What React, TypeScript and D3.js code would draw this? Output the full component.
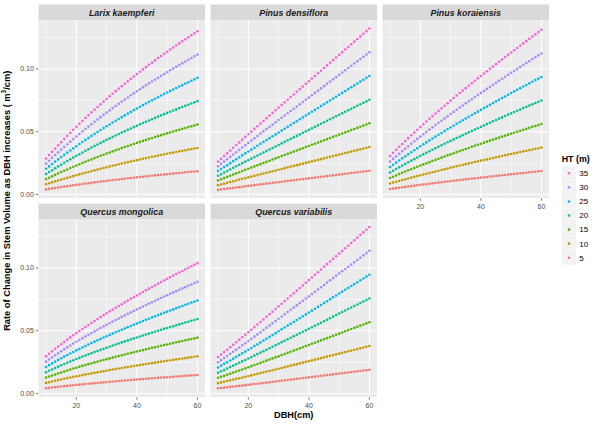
import React from 'react';
import * as d3 from 'd3';

const DBH = [10, 11, 12, 13, 14, 15, 16, 17, 18, 19, 20, 21, 22, 23, 24, 25, 26, 27, 28, 29, 30, 31, 32, 33, 34, 35, 36, 37, 38, 39, 40, 41, 42, 43, 44, 45, 46, 47, 48, 49, 50, 51, 52, 53, 54, 55, 56, 57, 58, 59, 60];
const HT_LEVELS = [5, 10, 15, 20, 25, 30, 35];
const HT_COLORS = ['#F8766D', '#C49A00', '#53B400', '#00C094', '#00B6EB', '#A58AFF', '#FB61D7'];
const SPECIES = ['Larix kaempferi', 'Pinus densiflora', 'Pinus koraiensis', 'Quercus mongolica', 'Quercus variabilis'];
const X_TICKS = [20, 40, 60];
const X_MINOR = [10, 30, 50];
const Y_TICKS = [0, 0.05, 0.1];
const Y_TICK_LABELS = ['0.00', '0.05', '0.10'];
const Y_MINOR = [0.025, 0.075, 0.125];

// rows: HT 5, 10, 15, 20, 25, 30, 35 ; columns: DBH 10..60
const larixKaempferi = [
  [0.0041,0.0045,0.0049,0.0052,0.0056,0.0060,0.0063,0.0067,0.0070,0.0074,0.0077,0.0080,0.0084,0.0087,0.0090,0.0093,0.0097,0.0100,0.0103,0.0106,0.0109,0.0112,0.0115,0.0118,0.0120,0.0123,0.0126,0.0129,0.0132,0.0134,0.0137,0.0140,0.0142,0.0145,0.0148,0.0150,0.0153,0.0155,0.0158,0.0160,0.0162,0.0165,0.0167,0.0170,0.0172,0.0174,0.0177,0.0179,0.0181,0.0183,0.0186],
  [0.0082,0.0090,0.0097,0.0105,0.0112,0.0119,0.0126,0.0133,0.0140,0.0147,0.0154,0.0161,0.0167,0.0174,0.0180,0.0187,0.0193,0.0199,0.0205,0.0211,0.0217,0.0223,0.0229,0.0235,0.0241,0.0247,0.0252,0.0258,0.0263,0.0269,0.0274,0.0279,0.0285,0.0290,0.0295,0.0300,0.0305,0.0310,0.0315,0.0320,0.0325,0.0330,0.0334,0.0339,0.0344,0.0348,0.0353,0.0358,0.0362,0.0367,0.0371],
  [0.0123,0.0134,0.0146,0.0157,0.0168,0.0179,0.0190,0.0200,0.0211,0.0221,0.0231,0.0241,0.0251,0.0261,0.0271,0.0280,0.0290,0.0299,0.0308,0.0317,0.0326,0.0335,0.0344,0.0353,0.0361,0.0370,0.0378,0.0387,0.0395,0.0403,0.0411,0.0419,0.0427,0.0435,0.0443,0.0450,0.0458,0.0465,0.0473,0.0480,0.0487,0.0494,0.0502,0.0509,0.0516,0.0523,0.0530,0.0537,0.0543,0.0550,0.0557],
  [0.0164,0.0179,0.0194,0.0209,0.0224,0.0238,0.0253,0.0267,0.0281,0.0294,0.0308,0.0321,0.0335,0.0348,0.0361,0.0374,0.0386,0.0399,0.0411,0.0423,0.0435,0.0447,0.0458,0.0470,0.0482,0.0493,0.0504,0.0515,0.0526,0.0537,0.0548,0.0559,0.0569,0.0580,0.0590,0.0600,0.0610,0.0620,0.0630,0.0640,0.0650,0.0659,0.0669,0.0678,0.0688,0.0697,0.0706,0.0715,0.0725,0.0734,0.0743],
  [0.0205,0.0224,0.0243,0.0262,0.0280,0.0298,0.0316,0.0334,0.0351,0.0368,0.0385,0.0402,0.0418,0.0435,0.0451,0.0467,0.0483,0.0498,0.0514,0.0529,0.0544,0.0558,0.0573,0.0588,0.0602,0.0616,0.0630,0.0644,0.0658,0.0672,0.0685,0.0698,0.0712,0.0725,0.0738,0.0750,0.0763,0.0775,0.0788,0.0800,0.0812,0.0824,0.0836,0.0848,0.0860,0.0871,0.0883,0.0894,0.0906,0.0917,0.0929],
  [0.0246,0.0269,0.0292,0.0314,0.0336,0.0358,0.0379,0.0400,0.0421,0.0442,0.0462,0.0482,0.0502,0.0522,0.0541,0.0560,0.0579,0.0598,0.0616,0.0634,0.0652,0.0670,0.0688,0.0705,0.0722,0.0740,0.0756,0.0773,0.0790,0.0806,0.0822,0.0838,0.0854,0.0870,0.0885,0.0900,0.0915,0.0930,0.0945,0.0960,0.0974,0.0989,0.1003,0.1017,0.1031,0.1045,0.1059,0.1073,0.1087,0.1101,0.1114],
  [0.0287,0.0314,0.0340,0.0366,0.0392,0.0417,0.0442,0.0467,0.0491,0.0515,0.0539,0.0563,0.0586,0.0609,0.0631,0.0654,0.0676,0.0697,0.0719,0.0740,0.0761,0.0782,0.0802,0.0823,0.0843,0.0863,0.0882,0.0902,0.0921,0.0940,0.0959,0.0978,0.0996,0.1014,0.1033,0.1050,0.1068,0.1086,0.1103,0.1120,0.1137,0.1154,0.1170,0.1187,0.1203,0.1220,0.1236,0.1252,0.1268,0.1284,0.1300],
];

const pinusDensiflora = [
  [0.0037,0.0041,0.0044,0.0047,0.0050,0.0053,0.0056,0.0059,0.0062,0.0066,0.0069,0.0072,0.0075,0.0078,0.0081,0.0084,0.0087,0.0090,0.0093,0.0096,0.0099,0.0102,0.0105,0.0108,0.0111,0.0114,0.0117,0.0120,0.0123,0.0126,0.0129,0.0132,0.0135,0.0138,0.0141,0.0144,0.0147,0.0150,0.0153,0.0156,0.0159,0.0162,0.0165,0.0168,0.0171,0.0174,0.0177,0.0180,0.0183,0.0186,0.0189],
  [0.0075,0.0081,0.0087,0.0094,0.0100,0.0106,0.0112,0.0119,0.0125,0.0131,0.0137,0.0143,0.0149,0.0155,0.0162,0.0168,0.0174,0.0180,0.0186,0.0192,0.0198,0.0204,0.0210,0.0216,0.0222,0.0228,0.0234,0.0240,0.0246,0.0252,0.0258,0.0264,0.0270,0.0276,0.0282,0.0288,0.0294,0.0300,0.0306,0.0312,0.0318,0.0324,0.0330,0.0336,0.0342,0.0348,0.0354,0.0360,0.0366,0.0372,0.0378],
  [0.0112,0.0122,0.0131,0.0141,0.0150,0.0159,0.0169,0.0178,0.0187,0.0197,0.0206,0.0215,0.0224,0.0233,0.0242,0.0251,0.0260,0.0269,0.0279,0.0288,0.0297,0.0306,0.0315,0.0324,0.0333,0.0342,0.0351,0.0360,0.0369,0.0378,0.0387,0.0396,0.0405,0.0414,0.0423,0.0432,0.0441,0.0450,0.0459,0.0468,0.0477,0.0486,0.0495,0.0504,0.0513,0.0522,0.0531,0.0540,0.0549,0.0558,0.0567],
  [0.0150,0.0162,0.0175,0.0188,0.0200,0.0213,0.0225,0.0237,0.0250,0.0262,0.0274,0.0286,0.0299,0.0311,0.0323,0.0335,0.0347,0.0359,0.0371,0.0383,0.0395,0.0407,0.0419,0.0431,0.0443,0.0455,0.0467,0.0479,0.0491,0.0503,0.0515,0.0527,0.0539,0.0551,0.0563,0.0575,0.0587,0.0599,0.0611,0.0623,0.0635,0.0647,0.0659,0.0671,0.0683,0.0695,0.0707,0.0719,0.0731,0.0743,0.0755],
  [0.0187,0.0203,0.0219,0.0234,0.0250,0.0266,0.0281,0.0297,0.0312,0.0328,0.0343,0.0358,0.0373,0.0389,0.0404,0.0419,0.0434,0.0449,0.0464,0.0479,0.0494,0.0509,0.0524,0.0539,0.0554,0.0569,0.0584,0.0599,0.0614,0.0629,0.0644,0.0659,0.0674,0.0689,0.0704,0.0719,0.0734,0.0749,0.0764,0.0779,0.0794,0.0809,0.0824,0.0839,0.0854,0.0869,0.0884,0.0899,0.0914,0.0929,0.0944],
  [0.0225,0.0244,0.0262,0.0281,0.0300,0.0319,0.0337,0.0356,0.0375,0.0393,0.0411,0.0430,0.0448,0.0466,0.0485,0.0503,0.0521,0.0539,0.0557,0.0575,0.0593,0.0611,0.0629,0.0647,0.0665,0.0683,0.0701,0.0719,0.0737,0.0755,0.0773,0.0791,0.0809,0.0827,0.0845,0.0863,0.0881,0.0899,0.0917,0.0935,0.0953,0.0971,0.0989,0.1007,0.1025,0.1043,0.1061,0.1079,0.1097,0.1115,0.1133],
  [0.0262,0.0284,0.0306,0.0328,0.0350,0.0372,0.0394,0.0415,0.0437,0.0459,0.0480,0.0501,0.0523,0.0544,0.0565,0.0586,0.0608,0.0629,0.0650,0.0671,0.0692,0.0713,0.0734,0.0755,0.0776,0.0797,0.0818,0.0839,0.0860,0.0881,0.0902,0.0923,0.0944,0.0965,0.0986,0.1007,0.1028,0.1049,0.1070,0.1091,0.1112,0.1133,0.1154,0.1175,0.1196,0.1217,0.1238,0.1259,0.1280,0.1301,0.1322],
];

const pinusKoraiensis = [
  [0.0044,0.0047,0.0051,0.0054,0.0058,0.0061,0.0064,0.0067,0.0071,0.0074,0.0077,0.0080,0.0083,0.0086,0.0089,0.0092,0.0095,0.0098,0.0101,0.0104,0.0107,0.0110,0.0113,0.0115,0.0118,0.0121,0.0124,0.0127,0.0129,0.0132,0.0135,0.0138,0.0140,0.0143,0.0146,0.0148,0.0151,0.0154,0.0156,0.0159,0.0162,0.0164,0.0167,0.0169,0.0172,0.0174,0.0177,0.0180,0.0182,0.0185,0.0187],
  [0.0088,0.0095,0.0102,0.0108,0.0115,0.0122,0.0128,0.0135,0.0141,0.0148,0.0154,0.0160,0.0166,0.0172,0.0178,0.0184,0.0190,0.0196,0.0202,0.0208,0.0214,0.0219,0.0225,0.0231,0.0236,0.0242,0.0248,0.0253,0.0259,0.0264,0.0270,0.0275,0.0280,0.0286,0.0291,0.0297,0.0302,0.0307,0.0313,0.0318,0.0323,0.0328,0.0333,0.0339,0.0344,0.0349,0.0354,0.0359,0.0364,0.0369,0.0374],
  [0.0132,0.0142,0.0152,0.0163,0.0173,0.0183,0.0193,0.0202,0.0212,0.0221,0.0231,0.0240,0.0249,0.0258,0.0267,0.0276,0.0285,0.0294,0.0303,0.0312,0.0320,0.0329,0.0338,0.0346,0.0355,0.0363,0.0371,0.0380,0.0388,0.0396,0.0404,0.0413,0.0421,0.0429,0.0437,0.0445,0.0453,0.0461,0.0469,0.0477,0.0485,0.0492,0.0500,0.0508,0.0516,0.0523,0.0531,0.0539,0.0546,0.0554,0.0562],
  [0.0175,0.0190,0.0203,0.0217,0.0230,0.0244,0.0257,0.0270,0.0282,0.0295,0.0308,0.0320,0.0332,0.0344,0.0357,0.0369,0.0380,0.0392,0.0404,0.0416,0.0427,0.0439,0.0450,0.0461,0.0473,0.0484,0.0495,0.0506,0.0517,0.0528,0.0539,0.0550,0.0561,0.0572,0.0583,0.0593,0.0604,0.0614,0.0625,0.0636,0.0646,0.0657,0.0667,0.0677,0.0688,0.0698,0.0708,0.0718,0.0729,0.0739,0.0749],
  [0.0219,0.0237,0.0254,0.0271,0.0288,0.0305,0.0321,0.0337,0.0353,0.0369,0.0384,0.0400,0.0415,0.0431,0.0446,0.0461,0.0476,0.0490,0.0505,0.0520,0.0534,0.0548,0.0563,0.0577,0.0591,0.0605,0.0619,0.0633,0.0647,0.0660,0.0674,0.0688,0.0701,0.0715,0.0728,0.0742,0.0755,0.0768,0.0781,0.0795,0.0808,0.0821,0.0834,0.0847,0.0860,0.0872,0.0885,0.0898,0.0911,0.0923,0.0936],
  [0.0263,0.0284,0.0305,0.0325,0.0346,0.0365,0.0385,0.0404,0.0424,0.0443,0.0461,0.0480,0.0498,0.0517,0.0535,0.0553,0.0571,0.0588,0.0606,0.0623,0.0641,0.0658,0.0675,0.0692,0.0709,0.0726,0.0743,0.0759,0.0776,0.0792,0.0809,0.0825,0.0841,0.0858,0.0874,0.0890,0.0906,0.0922,0.0938,0.0953,0.0969,0.0985,0.1000,0.1016,0.1031,0.1047,0.1062,0.1078,0.1093,0.1108,0.1123],
  [0.0307,0.0332,0.0356,0.0380,0.0403,0.0426,0.0449,0.0472,0.0494,0.0516,0.0538,0.0560,0.0581,0.0603,0.0624,0.0645,0.0666,0.0686,0.0707,0.0727,0.0748,0.0768,0.0788,0.0808,0.0827,0.0847,0.0866,0.0886,0.0905,0.0925,0.0944,0.0963,0.0982,0.1001,0.1019,0.1038,0.1057,0.1075,0.1094,0.1112,0.1131,0.1149,0.1167,0.1185,0.1203,0.1221,0.1239,0.1257,0.1275,0.1293,0.1311],
];

const quercusMongolica = [
  [0.0042,0.0045,0.0048,0.0051,0.0054,0.0056,0.0059,0.0061,0.0064,0.0066,0.0069,0.0071,0.0073,0.0076,0.0078,0.0080,0.0083,0.0085,0.0087,0.0089,0.0091,0.0093,0.0095,0.0098,0.0100,0.0102,0.0104,0.0106,0.0108,0.0110,0.0112,0.0114,0.0115,0.0117,0.0119,0.0121,0.0123,0.0125,0.0127,0.0129,0.0130,0.0132,0.0134,0.0136,0.0138,0.0139,0.0141,0.0143,0.0145,0.0146,0.0148],
  [0.0085,0.0090,0.0096,0.0102,0.0107,0.0112,0.0118,0.0123,0.0128,0.0133,0.0137,0.0142,0.0147,0.0152,0.0156,0.0161,0.0165,0.0169,0.0174,0.0178,0.0182,0.0187,0.0191,0.0195,0.0199,0.0203,0.0207,0.0211,0.0215,0.0219,0.0223,0.0227,0.0231,0.0235,0.0239,0.0242,0.0246,0.0250,0.0254,0.0257,0.0261,0.0265,0.0268,0.0272,0.0275,0.0279,0.0282,0.0286,0.0289,0.0293,0.0296],
  [0.0127,0.0136,0.0144,0.0152,0.0161,0.0168,0.0176,0.0184,0.0191,0.0199,0.0206,0.0213,0.0220,0.0227,0.0234,0.0241,0.0248,0.0254,0.0261,0.0267,0.0274,0.0280,0.0286,0.0293,0.0299,0.0305,0.0311,0.0317,0.0323,0.0329,0.0335,0.0341,0.0346,0.0352,0.0358,0.0364,0.0369,0.0375,0.0380,0.0386,0.0391,0.0397,0.0402,0.0408,0.0413,0.0418,0.0424,0.0429,0.0434,0.0439,0.0445],
  [0.0169,0.0181,0.0192,0.0203,0.0214,0.0225,0.0235,0.0245,0.0255,0.0265,0.0275,0.0284,0.0294,0.0303,0.0312,0.0321,0.0330,0.0339,0.0348,0.0356,0.0365,0.0373,0.0382,0.0390,0.0398,0.0407,0.0415,0.0423,0.0431,0.0439,0.0446,0.0454,0.0462,0.0470,0.0477,0.0485,0.0492,0.0500,0.0507,0.0515,0.0522,0.0529,0.0536,0.0544,0.0551,0.0558,0.0565,0.0572,0.0579,0.0586,0.0593],
  [0.0211,0.0226,0.0240,0.0254,0.0268,0.0281,0.0294,0.0306,0.0319,0.0331,0.0344,0.0355,0.0367,0.0379,0.0390,0.0402,0.0413,0.0424,0.0435,0.0446,0.0456,0.0467,0.0477,0.0488,0.0498,0.0508,0.0518,0.0528,0.0538,0.0548,0.0558,0.0568,0.0577,0.0587,0.0596,0.0606,0.0615,0.0625,0.0634,0.0643,0.0652,0.0661,0.0670,0.0680,0.0688,0.0697,0.0706,0.0715,0.0724,0.0732,0.0741],
  [0.0254,0.0271,0.0288,0.0305,0.0321,0.0337,0.0353,0.0368,0.0383,0.0398,0.0412,0.0426,0.0441,0.0455,0.0468,0.0482,0.0495,0.0508,0.0522,0.0535,0.0547,0.0560,0.0573,0.0585,0.0598,0.0610,0.0622,0.0634,0.0646,0.0658,0.0670,0.0681,0.0693,0.0704,0.0716,0.0727,0.0738,0.0750,0.0761,0.0772,0.0783,0.0794,0.0805,0.0815,0.0826,0.0837,0.0847,0.0858,0.0868,0.0879,0.0889],
  [0.0296,0.0316,0.0336,0.0356,0.0375,0.0393,0.0411,0.0429,0.0447,0.0464,0.0481,0.0498,0.0514,0.0530,0.0546,0.0562,0.0578,0.0593,0.0609,0.0624,0.0639,0.0654,0.0668,0.0683,0.0697,0.0711,0.0726,0.0740,0.0754,0.0767,0.0781,0.0795,0.0808,0.0822,0.0835,0.0848,0.0861,0.0875,0.0888,0.0900,0.0913,0.0926,0.0939,0.0951,0.0964,0.0976,0.0989,0.1001,0.1013,0.1025,0.1038],
];

const quercusVariabilis = [
  [0.0042,0.0044,0.0047,0.0050,0.0053,0.0056,0.0058,0.0061,0.0064,0.0067,0.0070,0.0073,0.0076,0.0078,0.0081,0.0084,0.0087,0.0090,0.0093,0.0096,0.0099,0.0102,0.0105,0.0108,0.0111,0.0114,0.0117,0.0120,0.0123,0.0126,0.0129,0.0132,0.0135,0.0138,0.0141,0.0144,0.0147,0.0150,0.0153,0.0156,0.0159,0.0162,0.0165,0.0168,0.0171,0.0174,0.0177,0.0180,0.0183,0.0186,0.0189],
  [0.0083,0.0089,0.0094,0.0100,0.0105,0.0111,0.0117,0.0122,0.0128,0.0134,0.0139,0.0145,0.0151,0.0157,0.0163,0.0169,0.0175,0.0180,0.0186,0.0192,0.0198,0.0204,0.0210,0.0216,0.0222,0.0228,0.0234,0.0240,0.0246,0.0252,0.0258,0.0264,0.0270,0.0276,0.0282,0.0288,0.0294,0.0300,0.0306,0.0312,0.0318,0.0324,0.0330,0.0336,0.0342,0.0348,0.0354,0.0360,0.0367,0.0373,0.0379],
  [0.0125,0.0133,0.0141,0.0150,0.0158,0.0167,0.0175,0.0183,0.0192,0.0201,0.0209,0.0218,0.0227,0.0235,0.0244,0.0253,0.0262,0.0271,0.0280,0.0288,0.0297,0.0306,0.0315,0.0324,0.0333,0.0342,0.0351,0.0360,0.0369,0.0378,0.0387,0.0396,0.0405,0.0414,0.0423,0.0432,0.0441,0.0450,0.0459,0.0468,0.0477,0.0486,0.0496,0.0505,0.0514,0.0523,0.0532,0.0541,0.0550,0.0559,0.0568],
  [0.0166,0.0177,0.0188,0.0200,0.0211,0.0222,0.0233,0.0245,0.0256,0.0267,0.0279,0.0290,0.0302,0.0314,0.0326,0.0337,0.0349,0.0361,0.0373,0.0385,0.0397,0.0409,0.0420,0.0432,0.0444,0.0456,0.0468,0.0480,0.0492,0.0504,0.0516,0.0528,0.0540,0.0552,0.0564,0.0576,0.0588,0.0600,0.0612,0.0625,0.0637,0.0649,0.0661,0.0673,0.0685,0.0697,0.0709,0.0721,0.0733,0.0745,0.0757],
  [0.0208,0.0222,0.0236,0.0249,0.0263,0.0278,0.0292,0.0306,0.0320,0.0334,0.0349,0.0363,0.0378,0.0392,0.0407,0.0422,0.0436,0.0451,0.0466,0.0481,0.0496,0.0511,0.0526,0.0541,0.0555,0.0570,0.0585,0.0600,0.0615,0.0630,0.0645,0.0660,0.0675,0.0690,0.0705,0.0720,0.0735,0.0751,0.0766,0.0781,0.0796,0.0811,0.0826,0.0841,0.0856,0.0871,0.0886,0.0901,0.0916,0.0931,0.0946],
  [0.0249,0.0266,0.0283,0.0299,0.0316,0.0333,0.0350,0.0367,0.0384,0.0401,0.0418,0.0436,0.0453,0.0471,0.0488,0.0506,0.0524,0.0541,0.0559,0.0577,0.0595,0.0613,0.0631,0.0649,0.0667,0.0684,0.0702,0.0720,0.0738,0.0756,0.0774,0.0792,0.0810,0.0828,0.0846,0.0864,0.0883,0.0901,0.0919,0.0937,0.0955,0.0973,0.0991,0.1009,0.1027,0.1045,0.1063,0.1081,0.1100,0.1118,0.1136],
  [0.0291,0.0310,0.0330,0.0349,0.0369,0.0389,0.0408,0.0428,0.0448,0.0468,0.0488,0.0508,0.0529,0.0549,0.0570,0.0590,0.0611,0.0632,0.0652,0.0673,0.0694,0.0715,0.0736,0.0757,0.0778,0.0799,0.0819,0.0840,0.0861,0.0882,0.0903,0.0924,0.0945,0.0966,0.0987,0.1009,0.1030,0.1051,0.1072,0.1093,0.1114,0.1135,0.1156,0.1177,0.1198,0.1220,0.1241,0.1262,0.1283,0.1304,0.1325],
];

const SERIES = [larixKaempferi, pinusDensiflora, pinusKoraiensis, quercusMongolica, quercusVariabilis];

const FONT = "'Liberation Sans', Arial, Helvetica, sans-serif";
const W = 599;
const H = 424;
const PANEL_LEFT = 38.5;
const PANEL_W = 166.5;
const PANEL_GAP = 5.5;
const STRIP_TOPS = [4.5, 203.5];
const STRIP_H = 15.5;
const PANEL_H = 178;

export default function App() {
  const allValues = SERIES.flat(2);
  const [yMin, yMax] = d3.extent(allValues) as [number, number];
  const yPad = (yMax - yMin) * 0.05;
  const [xMin, xMax] = d3.extent(DBH) as [number, number];
  const xPad = (xMax - xMin) * 0.05;
  const x = d3.scaleLinear().domain([xMin - xPad, xMax + xPad]).range([0, PANEL_W]);
  const y = d3.scaleLinear().domain([yMin - yPad, yMax + yPad]).range([PANEL_H, 0]);

  const legendTop = 173.3;
  const legendStep = 14.07;
  const legendOrder = HT_LEVELS.map((h, i) => i).reverse();

  return (
    <svg width={W} height={H} viewBox={`0 0 ${W} ${H}`}
      style={{ position: 'absolute', left: 0, top: 0, display: 'block', background: '#FFFFFF' }}
      fontFamily={FONT}>
      <rect width={W} height={H} fill="#FFFFFF" />
      {SPECIES.map((name, i) => {
        const col = i % 3;
        const row = Math.floor(i / 3);
        const left = PANEL_LEFT + col * (PANEL_W + PANEL_GAP);
        const stripTop = STRIP_TOPS[row];
        const top = stripTop + STRIP_H;
        const showX = row === 1 || col === 2;
        const showY = col === 0;
        const data = SERIES[i];
        return (
          <g key={name}>
            <rect x={left} y={stripTop} width={PANEL_W} height={STRIP_H} fill="#D9D9D9" />
            <text x={left + PANEL_W / 2} y={stripTop + 11.2} textAnchor="middle"
              fontStyle="italic" fontWeight="bold" fontSize={8.9} fill="#1A1A1A">{name}</text>
            <g transform={`translate(${left},${top})`}>
              <rect width={PANEL_W} height={PANEL_H} fill="#EBEBEB" />
              {X_MINOR.map(v => (
                <line key={'xm' + v} x1={x(v)} x2={x(v)} y1={0} y2={PANEL_H} stroke="#FFFFFF" strokeWidth={0.53} />
              ))}
              {Y_MINOR.map(v => (
                <line key={'ym' + v} x1={0} x2={PANEL_W} y1={y(v)} y2={y(v)} stroke="#FFFFFF" strokeWidth={0.53} />
              ))}
              {X_TICKS.map(v => (
                <line key={'xM' + v} x1={x(v)} x2={x(v)} y1={0} y2={PANEL_H} stroke="#FFFFFF" strokeWidth={1.07} />
              ))}
              {Y_TICKS.map(v => (
                <line key={'yM' + v} x1={0} x2={PANEL_W} y1={y(v)} y2={y(v)} stroke="#FFFFFF" strokeWidth={1.07} />
              ))}
              {data.map((vals, k) => (
                <g key={'s' + k} fill={HT_COLORS[k]}>
                  {vals.map((v, j) => (
                    <circle key={j} cx={x(DBH[j])} cy={y(v)} r={1.3} />
                  ))}
                </g>
              ))}
            </g>
            {showY && Y_TICKS.map((v, t) => (
              <g key={'yt' + v}>
                <line x1={left - 2.75} x2={left} y1={top + y(v)} y2={top + y(v)} stroke="#333333" strokeWidth={0.6} />
                <text x={left - 4.6} y={top + y(v) + 2.5} textAnchor="end" fontSize={7} fill="#4D4D4D">{Y_TICK_LABELS[t]}</text>
              </g>
            ))}
            {showX && X_TICKS.map(v => (
              <g key={'xt' + v}>
                <line x1={left + x(v)} x2={left + x(v)} y1={top + PANEL_H} y2={top + PANEL_H + 2.75} stroke="#333333" strokeWidth={0.6} />
                <text x={left + x(v)} y={top + PANEL_H + 10.8} textAnchor="middle" fontSize={7} fill="#4D4D4D">{v}</text>
              </g>
            ))}
          </g>
        );
      })}
      <text x={PANEL_LEFT + (3 * PANEL_W + 2 * PANEL_GAP) / 2} y={417.5} textAnchor="middle"
        fontWeight="bold" fontSize={9.2} fill="#000000">DBH(cm)</text>
      <text transform={`translate(9.5,${(STRIP_TOPS[0] + STRIP_TOPS[1] + STRIP_H + PANEL_H) / 2}) rotate(-90)`}
        textAnchor="middle" fontWeight="bold" fontSize={9.3} fill="#000000">
        <tspan>Rate of Change in Stem Volume as DBH increases ( m</tspan>
        <tspan dy={-3.3} fontSize={6.5}>3</tspan>
        <tspan dy={3.3}>/cm)</tspan>
      </text>
      <text x={561.7} y={162.3} fontWeight="bold" fontSize={8.9} fill="#000000">HT (m)</text>
      {legendOrder.map((k, idx) => {
        const cy = legendTop + idx * legendStep;
        return (
          <g key={'lg' + k}>
            <rect x={562} y={cy - 7} width={14} height={14} fill="#F2F2F2" />
            <circle cx={569} cy={cy} r={1.3} fill={HT_COLORS[k]} />
            <text x={579.3} y={cy + 2.9} fontSize={8} fill="#000000">{HT_LEVELS[k]}</text>
          </g>
        );
      })}
    </svg>
  );
}
